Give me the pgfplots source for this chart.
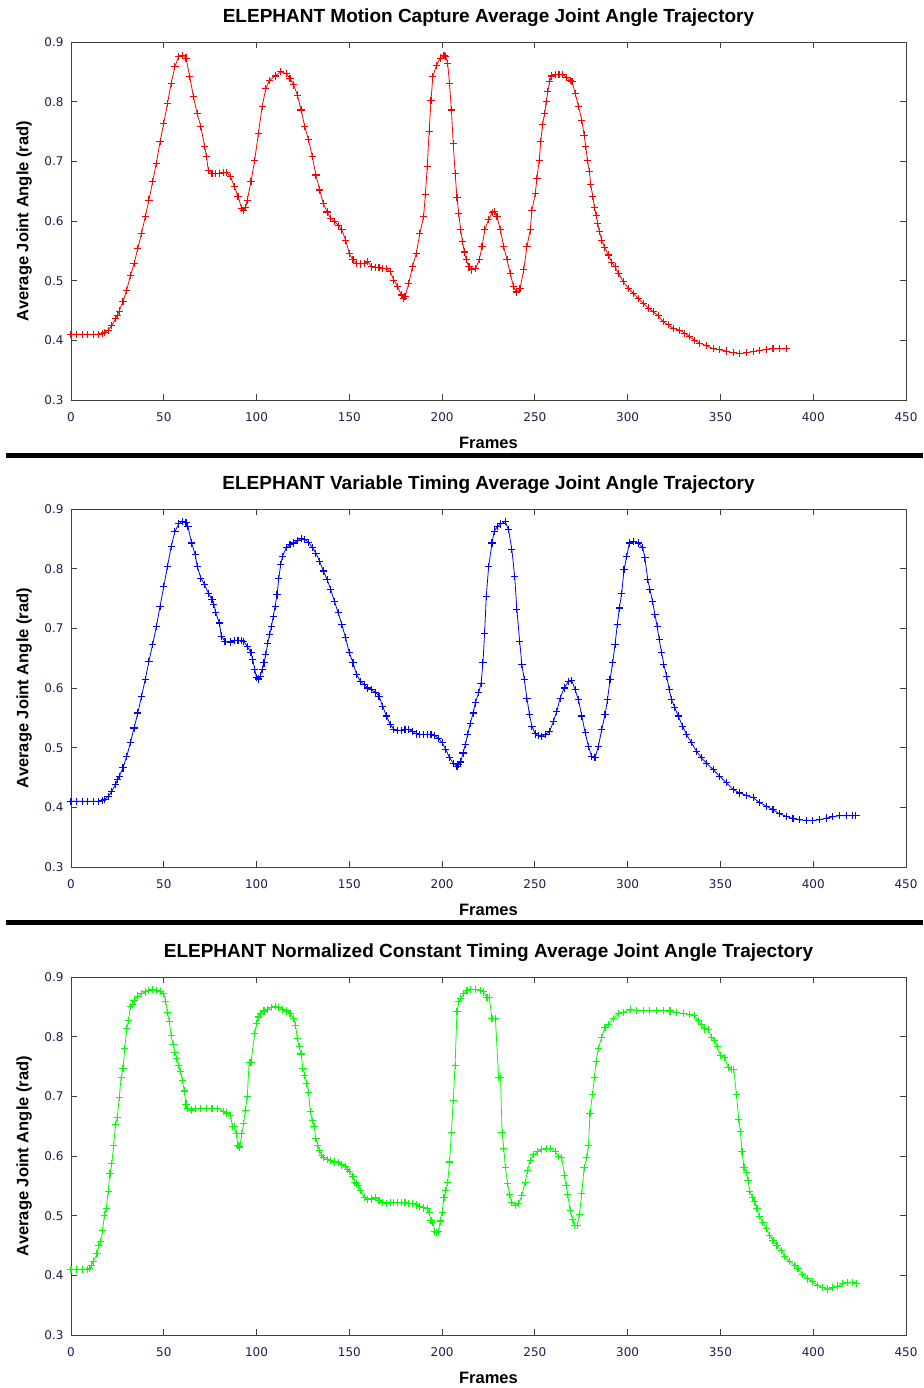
\documentclass[border=0pt]{standalone}
\usepackage{fontspec}
\setmainfont{Liberation Sans}
\newfontfamily\tickfamily{DejaVu Sans}
\usepackage{pgfplots}
\pgfplotsset{compat=1.18}
\definecolor{tickcol}{RGB}{30,30,80}
\definecolor{axcol}{RGB}{64,64,64}
\definecolor{pr}{RGB}{255,0,0}
\definecolor{pb}{RGB}{0,0,255}
\definecolor{pg}{RGB}{0,255,0}
\pgfplotsset{
  panel/.style={
    scale only axis, width=835pt, height=358pt,
    xmin=0, xmax=450, ymin=0.3, ymax=0.9,
    xtick={0,50,100,150,200,250,300,350,400,450},
    ytick={0.3,0.4,0.5,0.6,0.7,0.8,0.9},
    tick align=inside, tick pos=both, major tick length=6pt,
    axis line style={axcol, line width=0.8pt},
    every tick/.style={axcol, line width=0.8pt},
    ticklabel style={font=\tickfamily\fontsize{12}{12}\selectfont, text=tickcol},
    /pgf/number format/assume math mode=true,
    /pgf/number format/fixed,
    /pgf/number format/precision=1,
    yticklabel style={xshift=-4pt},
    xticklabel style={yshift=-9pt},
    xlabel={Frames}, ylabel={Average Joint Angle (rad)},
    label style={font=\bfseries\fontsize{16.5}{16.5}\selectfont},
    every axis title shift=0pt,
    title style={font=\bfseries\fontsize{19}{19}\selectfont, at={(axis description cs:0.5,1.067)}, anchor=center},
    xlabel style={at={(axis description cs:0.5,-0.12)}, anchor=center},
    ylabel style={at={(axis description cs:-0.0560,0.5)}, anchor=center},
  },
  trace/.style={draw=#1, color=#1, line width=0.8pt, mark=+, mark size=3.6pt,
    every mark/.style={draw=#1, color=#1, line width=1.1pt, solid}},
}
\begin{document}
\begin{tikzpicture}
\path[use as bounding box] (0,0) rectangle (923pt,1388pt);
\fill[white] (0,0) rectangle (923pt,1388pt);
% ---------------- Panel 1 ----------------
\begin{axis}[panel, at={(71pt,988pt)}, anchor=south west,
  title={ELEPHANT Motion Capture Average Joint Angle Trajectory}]
\addplot[trace=pr] table {
x y
0 0.41
3 0.41
6 0.41
9 0.41
12 0.41
15 0.41
17 0.411
18 0.413
20 0.417
22 0.425
24 0.436
25 0.442
26 0.449
28 0.465
30 0.484
32 0.508
34 0.529
36 0.554
38 0.579
40 0.607
42 0.635
44 0.666
46 0.697
48 0.733
50 0.764
52 0.797
54 0.831
56 0.859
58 0.875
60 0.878
62 0.873
64 0.842
66 0.808
68 0.78
70 0.758
72 0.725
73 0.708
74 0.685
76 0.68
78 0.679
80 0.68
82 0.681
84 0.681
86 0.674
88 0.658
90 0.641
92 0.621
93 0.617
94 0.622
95 0.635
97 0.666
99 0.702
101 0.747
103 0.792
105 0.822
107 0.836
110 0.843
113 0.850
116 0.847
118 0.839
120 0.828
122 0.811
124 0.786
126 0.758
128 0.736
130 0.708
132 0.677
134 0.652
136 0.629
138 0.615
140 0.604
142 0.599
144 0.593
146 0.585
148 0.568
150 0.545
152 0.535
154 0.529
156 0.528
158 0.529
160 0.532
162 0.523
164 0.522
166 0.522
168 0.521
170 0.520
172 0.515
174 0.501
176 0.490
178 0.476
179 0.470
180 0.473
182 0.495
184 0.523
186 0.545
188 0.579
190 0.607
191 0.645
192 0.691
193 0.75
194 0.802
195 0.842
197 0.861
199 0.873
201 0.878
202 0.875
203 0.864
204 0.83
205 0.786
206 0.730
207 0.680
208 0.640
209 0.612
210 0.585
211 0.565
212 0.548
213 0.535
214.5 0.523
216 0.518
218 0.52
220 0.535
221.5 0.557
223 0.585
225 0.602
227 0.614
228 0.616
229.6 0.607
231.4 0.585
233.2 0.557
235 0.535
236.7 0.512
238.5 0.49
240 0.481
242 0.487
244 0.518
245.7 0.557
247.5 0.585
248.4 0.618
250.2 0.646
251.1 0.671
252.3 0.702
253.2 0.733
254.1 0.761
255.2 0.780
256.1 0.8
257 0.817
258 0.834
259 0.843
261 0.846
263 0.846
265 0.845
267 0.841
269 0.836
270 0.834
271.7 0.814
273.5 0.792
275.3 0.769
276.5 0.744
277.4 0.725
278.3 0.702
279.4 0.683
280.1 0.661
281.2 0.641
282.1 0.623
283 0.609
283.9 0.596
284.8 0.582
286 0.568
287.5 0.556
289.6 0.543
291.4 0.531
293.2 0.523
295 0.512
297.7 0.498
300.4 0.487
303 0.479
305.7 0.470
308.4 0.462
311.1 0.454
313.8 0.448
316.5 0.441
319.2 0.431
321.9 0.426
324.5 0.420
328.1 0.417
330.8 0.412
333.5 0.406
336.2 0.400
338.9 0.395
342.5 0.391
346.1 0.386
349.6 0.384
353.2 0.382
356.8 0.379
360.4 0.378
364 0.379
367.6 0.381
371.1 0.383
374.7 0.385
378.3 0.386
381.9 0.386
385.5 0.386
};
\end{axis}
% ---------------- Panel 2 ----------------
\begin{axis}[panel, at={(71pt,521pt)}, anchor=south west,
  title={ELEPHANT Variable Timing Average Joint Angle Trajectory}]
\addplot[trace=pb] table {
x y
0 0.41
3 0.41
6 0.41
9 0.41
12 0.41
15 0.41
17 0.411
18 0.413
20 0.418
22 0.427
24 0.438
25 0.446
26 0.452
28 0.466
30 0.485
32 0.508
34 0.533
36 0.558
38 0.586
40 0.614
42 0.645
44 0.673
46 0.703
48 0.737
50 0.770
52 0.804
54 0.837
56 0.862
58 0.875
60 0.879
62 0.877
63 0.871
65 0.843
67 0.823
68 0.804
70 0.784
72 0.773
74 0.759
76 0.748
77 0.740
78 0.726
80 0.709
81 0.687
83 0.678
86 0.677
88 0.679
90 0.680
92 0.679
93 0.678
95 0.670
97 0.659
98 0.647
99 0.631
100 0.617
101 0.615
102 0.620
103 0.631
104 0.642
105 0.656
106 0.675
107 0.689
108 0.703
109 0.720
110 0.737
111 0.756
112 0.784
113 0.807
114 0.821
116 0.835
118 0.840
120 0.843
122 0.847
124 0.850
126 0.849
128 0.844
130 0.836
132 0.826
134 0.812
136 0.796
138 0.782
140 0.765
142 0.745
144 0.726
146 0.706
148 0.684
150 0.659
152 0.642
154 0.622
156 0.611
158 0.606
160 0.600
162 0.597
164 0.593
166 0.586
168 0.569
170 0.553
172 0.539
174 0.531
176 0.529
178 0.529
180 0.530
182 0.531
184 0.527
186 0.523
188 0.522
190 0.522
192 0.522
194 0.522
196 0.520
198 0.516
200 0.508
202 0.497
204 0.483
206 0.474
208 0.469
209 0.472
210 0.476
211.3 0.491
212.5 0.505
213.8 0.522
215.2 0.541
216.7 0.558
217.9 0.575
219.7 0.592
221 0.608
222 0.642
222.9 0.692
223.8 0.754
225.1 0.804
226.9 0.843
228.1 0.863
229.9 0.871
231.7 0.875
234 0.879
235.8 0.865
237.6 0.832
239.1 0.787
240.3 0.731
241.8 0.678
243 0.639
244.3 0.614
245.7 0.583
247.1 0.555
248.4 0.536
250.2 0.523
252 0.520
253.5 0.519
255.6 0.522
257.9 0.527
260 0.544
261.8 0.561
263.6 0.583
265.8 0.600
268.1 0.611
269.9 0.612
271.7 0.597
273.5 0.580
275.3 0.553
277.1 0.525
278.9 0.502
280.6 0.485
282.4 0.483
284.2 0.502
286 0.530
287.8 0.555
289.1 0.580
290.5 0.614
291.9 0.642
293.2 0.673
294.4 0.706
295.5 0.734
296.8 0.759
298 0.798
299.5 0.821
300.9 0.843
303 0.846
305.7 0.843
308.1 0.835
309.3 0.818
310.8 0.782
312 0.765
313.4 0.745
314.7 0.723
315.9 0.703
317 0.681
318.3 0.659
319.5 0.639
321 0.620
322.4 0.597
323.7 0.580
325.4 0.567
327.2 0.553
329.6 0.536
331.7 0.522
334.4 0.508
337.1 0.494
339.8 0.483
342.5 0.474
346.1 0.463
349.6 0.452
353.2 0.441
356.8 0.430
360.4 0.424
364 0.420
367.6 0.416
371.1 0.408
374.7 0.402
378.3 0.396
381.9 0.389
385.5 0.385
389.1 0.381
392.7 0.379
396.2 0.378
399.8 0.378
403.4 0.379
407 0.382
410.6 0.384
414.2 0.386
417.7 0.386
421.3 0.386
423 0.386
};
\end{axis}
% ---------------- Panel 3 ----------------
\begin{axis}[panel, at={(71pt,53pt)}, anchor=south west,
  title={ELEPHANT Normalized Constant Timing Average Joint Angle Trajectory}]
\addplot[trace=pg] table {
x y
0 0.41
3 0.41
6 0.41
9 0.41
10 0.411
11 0.417
12 0.423
14 0.436
15 0.450
16 0.456
17 0.475
18 0.501
19 0.512
20 0.540
21 0.571
22 0.587
23 0.618
24 0.653
25 0.665
26 0.698
27 0.731
28 0.746
29 0.780
30 0.813
31 0.827
32 0.851
33 0.854
34 0.861
36 0.868
38 0.872
40 0.875
42 0.878
44 0.879
46 0.878
48 0.876
50 0.872
51 0.859
52 0.841
53 0.825
54 0.802
55 0.787
56 0.774
57 0.763
58 0.752
59 0.742
60 0.727
61 0.709
62 0.687
63 0.680
65 0.677
67 0.679
70 0.680
73 0.680
76 0.680
79 0.679
82 0.675
84 0.672
86 0.668
87 0.649
88 0.649
89 0.637
90 0.618
91 0.615
92 0.637
93 0.654
94 0.677
95 0.700
96 0.757
97 0.757
99 0.805
100 0.822
101 0.833
102 0.839
104 0.843
106 0.846
108 0.849
110 0.850
112 0.849
114 0.846
116 0.843
118 0.839
120 0.830
121 0.819
122 0.797
123 0.783
124 0.771
125 0.746
126 0.735
127 0.721
128 0.707
129 0.674
130 0.660
131 0.649
132 0.629
133 0.618
134 0.609
135 0.601
136 0.598
138 0.594
140 0.592
142 0.590
144 0.589
146 0.585
148 0.583
149 0.578
150 0.574
152 0.565
153 0.556
154 0.554
155 0.551
156 0.542
158 0.531
160 0.527
162 0.528
164 0.530
166 0.526
168 0.522
170 0.521
172 0.522
174 0.522
176 0.522
178 0.522
180 0.522
182 0.521
184 0.520
186 0.518
188 0.516
190 0.513
192 0.512
193 0.505
194 0.492
195 0.489
196 0.474
197 0.472
198 0.473
199 0.491
200 0.506
201 0.530
202 0.542
203 0.555
204 0.590
205 0.640
206 0.693
207 0.752
208 0.842
209 0.859
210 0.864
211.6 0.872
213.4 0.877
215.2 0.879
217.9 0.879
220.6 0.878
222.4 0.875
224.2 0.865
225.4 0.865
226.9 0.831
228.7 0.831
230.5 0.731
231.5 0.731
232.3 0.640
233.2 0.613
234.1 0.581
235.3 0.554
236.4 0.535
237.6 0.522
239.4 0.517
241.2 0.520
243 0.534
244.8 0.556
246.1 0.576
247.5 0.593
249.3 0.602
251.4 0.607
253.8 0.611
256.1 0.613
258.6 0.612
260.9 0.608
262.7 0.599
264.5 0.597
265.9 0.568
266.8 0.551
267.7 0.535
269 0.509
270.3 0.494
271.3 0.483
272.9 0.484
274 0.502
275.3 0.537
276.5 0.580
278 0.597
278.9 0.618
279.7 0.671
281 0.703
282.1 0.732
283 0.759
284.2 0.780
286 0.799
287.8 0.816
289.6 0.820
292.3 0.831
295 0.839
297.7 0.841
301.3 0.845
304.8 0.844
308.4 0.844
312 0.844
315.6 0.844
319.2 0.844
322.8 0.843
326.3 0.840
329.9 0.839
333.5 0.837
336.2 0.835
338 0.827
339.8 0.820
341.6 0.813
343.4 0.812
345.2 0.799
347 0.794
348.2 0.783
350 0.768
352.3 0.765
354.1 0.748
355.9 0.745
357.2 0.745
358.6 0.703
359.9 0.661
360.8 0.641
361.6 0.608
362.7 0.581
364 0.573
364.9 0.559
365.8 0.541
367.2 0.531
368.5 0.523
369.7 0.512
371.1 0.498
372.9 0.489
374.7 0.478
376.5 0.467
378.3 0.459
380.5 0.450
382.8 0.442
384.6 0.431
387.3 0.423
390 0.417
391.8 0.411
394.4 0.401
397.1 0.394
399.8 0.389
402.5 0.383
405.2 0.379
407.9 0.377
410.6 0.379
413.3 0.382
415.9 0.386
418.6 0.388
421.3 0.388
423.1 0.386
};
\end{axis}
% separators
\draw[line width=5pt, black] (6pt,932.5pt) -- (923pt,932.5pt);
\draw[line width=5pt, black] (6pt,465.5pt) -- (923pt,465.5pt);
\end{tikzpicture}
\end{document}
